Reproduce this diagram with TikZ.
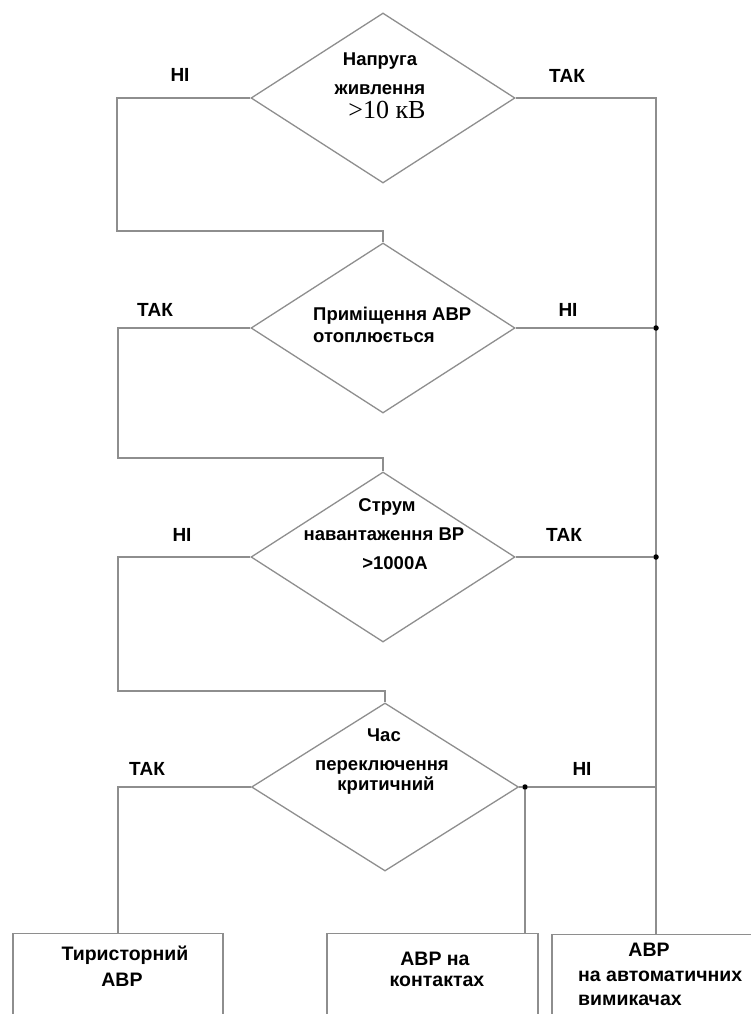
\documentclass[tikz,border=0pt]{standalone}
\usepackage{fontspec}
\setmainfont{Liberation Sans}
\newfontfamily\timesfont{Liberation Serif}
\usetikzlibrary{shapes.geometric,positioning}

\definecolor{wirecolor}{HTML}{8E8E8E}

\tikzset{
  cond/.style={diamond, draw=wirecolor, line width=1.3pt, minimum width=264pt, minimum height=170pt, inner sep=0pt},
  outbox/.style={rectangle, draw=wirecolor, line width=1.3pt, minimum height=110pt, inner sep=0pt, anchor=north},
  wire/.style={draw=wirecolor, line width=1.3pt},
  joint/.style={circle, fill=black, inner sep=0pt, minimum size=5.5pt},
  txt/.style={inner sep=0pt, text height=0.72em, text depth=0pt, font=\condfont},
  answer/.style={txt, font=\answerfont},
  restext/.style={txt, font=\boxfont},
}

\begin{document}
\begin{tikzpicture}[x=1pt, y=-1pt]
\def\condfont{\fontsize{18.5}{22}\selectfont\bfseries}
\def\answerfont{\fontsize{19}{23}\selectfont\bfseries}
\def\boxfont{\fontsize{19.5}{24}\selectfont\bfseries}

\useasboundingbox (0,0) rectangle (751,1014);
\clip (0,0) rectangle (751,1014);

% conditions
\node[cond] (d1) at (383,98) {};
\node[cond] (d2) at (383,328) {};
\node[cond] (d3) at (383,557) {};
\node[cond, minimum width=267pt, minimum height=168pt] (d4) at (385,787) {};

% results
\node[outbox, minimum width=210pt] (r1) at (118,933) {};
\node[outbox, minimum width=211pt] (r2) at (432.5,933) {};
\node[outbox, minimum width=208pt] (r3) at (656,934) {};

% left branches
\coordinate (k1) at (117,231);
\coordinate (k2) at (118,458);
\coordinate (k3) at (118,691);
\draw[wire] (d1.west) -| (k1) -| (d2.north);
\draw[wire] (d2.west) -| (k2) -| (d3.north);
\draw[wire] (d3.west) -| (k3) -| (d4.north);
\draw[wire] (d4.west) -| (r1.north);

% right branches
\draw[wire] (d1.east) -| (r3.north);
\node[joint] (j2) at (d2.east -| r3.north) {};
\node[joint] (j3) at (d3.east -| r3.north) {};
\node[joint] (j4) at (525,787) {};
\draw[wire] (d2.east) -- (j2);
\draw[wire] (d3.east) -- (j3);
\draw[wire] (d4.east) -- (j4) -- (d4.east -| r3.north);
\draw[wire] (j4) -- (j4 |- r2.north);

% answers
\node[answer] (a1n) at (180,78) {НІ};
\node[answer] (a1y) at (567,79) {ТАК};
\node[answer] (a2y) at (155,313) {ТАК};
\node[answer] (a2n) at (568,313) {НІ};
\node[answer] (a3n) at (182,538) {НІ};
\node[answer] (a3y) at (564,538) {ТАК};
\node[answer] (a4y) at (147,772) {ТАК};
\node[answer] (a4n) at (582,772) {НІ};

% condition texts
\node[txt] (q1a) at (380,62) {Напруга};
\node[txt] (q1b) at (380,91) {живлення};
\node[txt, font=\timesfont\fontsize{26}{30}\selectfont] (q1c) at (387,115) {>10 кВ};

\node[txt, anchor=west] (q2a) at (313,317) {Приміщення АВР};
\node[txt, anchor=west] (q2b) at (313,339) {отоплюється};

\node[txt] (q3a) at (387,508) {Струм};
\node[txt] (q3b) at (384,537) {навантаження ВР};
\node[txt] (q3c) at (395,566) {>1000А};

\node[txt] (q4a) at (384,738) {Час};
\node[txt] (q4b) at (382,767) {переключення};
\node[txt] (q4c) at (386,787) {критичний};

% result texts
\node[restext] (s1a) at (125,957) {Тиристорний};
\node[restext] (s1b) at (122,983) {АВР};
\node[restext] (s2a) at (435,962) {АВР на};
\node[restext] (s2b) at (437,983) {контактах};
\node[restext] (s3a) at (649,953) {АВР};
\node[restext, anchor=west] (s3b) at (578,978) {на автоматичних};
\node[restext, anchor=west] (s3c) at (578,1002) {вимикачах};

\end{tikzpicture}
\end{document}
